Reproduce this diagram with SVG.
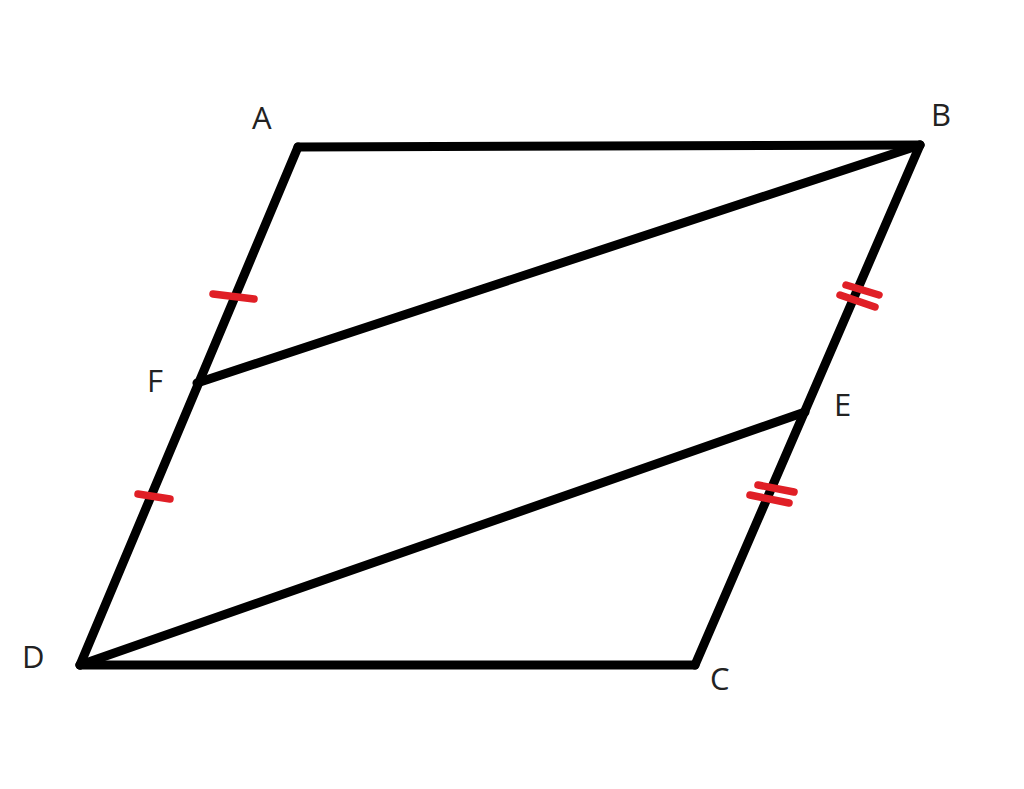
<svg xmlns="http://www.w3.org/2000/svg" width="1024" height="789" viewBox="0 0 1024 789">
<style>
.ln{stroke:#000;stroke-width:9;stroke-linecap:round;fill:none}
.tk{stroke:#e01f26;stroke-width:7.5;stroke-linecap:round;fill:none}
.lb{font-family:"Open Sans","Liberation Sans",sans-serif;font-size:31px;fill:#222}
</style>
<rect width="1024" height="789" fill="#fff"/>
<g id="edges">
<line class="ln" x1="298" y1="147" x2="920" y2="145"/>
<line class="ln" x1="298" y1="147" x2="80" y2="665"/>
<line class="ln" x1="920" y1="145" x2="695" y2="665"/>
<line class="ln" x1="80" y1="665" x2="695" y2="665"/>
<line class="ln" x1="197" y1="383" x2="920" y2="145"/>
<line class="ln" x1="80" y1="665" x2="805" y2="412"/>
</g>
<g id="ticks">
<line class="tk" x1="213" y1="294" x2="254" y2="299"/>
<line class="tk" x1="138" y1="494" x2="170" y2="499"/>
<line class="tk" x1="846" y1="285" x2="879" y2="295"/>
<line class="tk" x1="840" y1="295" x2="875" y2="307"/>
<line class="tk" x1="758" y1="485" x2="794" y2="492"/>
<line class="tk" x1="750" y1="495" x2="789" y2="503"/>
</g>
<g id="labels">
<text class="lb" x="252" y="129">A</text>
<text class="lb" x="931" y="126">B</text>
<text class="lb" x="147" y="392">F</text>
<text class="lb" x="834" y="416">E</text>
<text class="lb" x="22" y="668">D</text>
<text class="lb" x="710" y="690">C</text>
</g>
</svg>
